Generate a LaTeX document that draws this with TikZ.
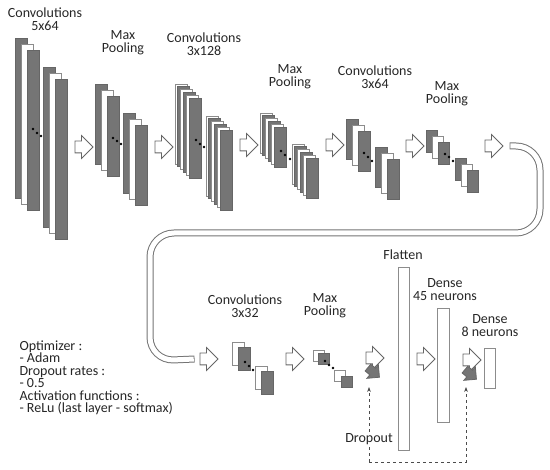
\documentclass[tikz,border=0pt]{standalone}
\usepackage{fontspec}
\setmainfont{Carlito}
\usetikzlibrary{positioning, arrows.meta, shapes.arrows, calc}

\begin{document}
\begin{tikzpicture}[x=1pt, y=-1pt,
    fmapw/.style={draw=black!45, fill=white, line width=0.8pt, inner sep=0pt, outer sep=0pt, anchor=north west},
    fmapg/.style={fmapw, draw=black!60, fill=black!54},
    dotn/.style={circle, fill=black, inner sep=0pt, minimum size=2.6pt},
    title/.style={align=center, text=black!85, font=\fontsize{14}{13}\selectfont},
    flow/.style={single arrow, draw=black!60, fill=white, line width=0.8pt, minimum height=18pt,
                 inner xsep=0pt, inner ysep=5.5pt, single arrow head extend=5.5pt},
    flowg/.style={flow, fill=black!54, minimum height=15pt, inner ysep=4pt, single arrow head extend=4.5pt},
    pipe/.style={rounded corners=24pt}
]
    \useasboundingbox (0,0) rectangle (550,470);

    % first row
    \foreach \n/\x/\y/\s in {a/15/38/fmapg, b/21/44/fmapw, c/27/50/fmapg, d/43/67/fmapg, e/49/73/fmapw, f/55/79/fmapg}
        \node[\s, minimum width=12pt, minimum height=160pt] (c1\n) at (\x,\y) {};
    \foreach \n/\x/\y/\s in {a/95/84/fmapg, b/101/90/fmapw, c/107/96/fmapg, d/123/113/fmapg, e/129/119/fmapw, f/135/125/fmapg}
        \node[\s, minimum width=12pt, minimum height=80pt] (p1\n) at (\x,\y) {};
    \foreach \i/\s in {0/fmapw, 1/fmapg, 2/fmapw, 3/fmapg, 4/fmapw, 5/fmapg} {
        \node[\s, minimum width=12pt, minimum height=80pt] (c2a\i) at ({175+2.8*\i},{84+2.8*\i}) {};
        \node[\s, minimum width=12pt, minimum height=80pt] (c2b\i) at ({206+2.8*\i},{116+2.8*\i}) {};
    }
    \foreach \i/\s in {0/fmapw, 1/fmapg, 2/fmapw, 3/fmapg, 4/fmapw, 5/fmapg} {
        \node[\s, minimum width=12pt, minimum height=40pt] (p2a\i) at ({260+2.8*\i},{113+2.8*\i}) {};
        \node[\s, minimum width=12pt, minimum height=40pt] (p2b\i) at ({292+2.8*\i},{144+2.8*\i}) {};
    }
    \foreach \n/\x/\y/\s in {a/346/119/fmapg, b/352/125/fmapw, c/358/131/fmapg, d/375/147/fmapg, e/381/153/fmapw, f/387/159/fmapg}
        \node[\s, minimum width=12pt, minimum height=40pt] (c3\n) at (\x,\y) {};
    \foreach \n/\x/\y/\s in {a/426/130/fmapg, b/432/136/fmapw, c/438/142/fmapg, d/455/158/fmapg, e/461/164/fmapw, f/467/170/fmapg}
        \node[\s, minimum width=11pt, minimum height=22pt] (p3\n) at (\x,\y) {};

    % second row
    \foreach \n/\x/\y/\s in {a/232/342/fmapw, b/238/347/fmapg, c/255/366/fmapw, d/261/371/fmapg}
        \node[\s, minimum width=12pt, minimum height=23pt] (c4\n) at (\x,\y) {};
    \foreach \n/\x/\y/\s in {a/313/350/fmapw, b/318/353/fmapg, c/334/370/fmapw, d/341/376/fmapg}
        \node[\s, minimum width=11pt, minimum height=11pt] (p4\n) at (\x,\y) {};

    \node[fmapw, minimum width=11pt, minimum height=183pt] (flat) at (398,267) {};
    \node[fmapw, minimum width=12pt, minimum height=114pt] (d45) at (437,308) {};
    \node[fmapw, minimum width=11pt, minimum height=40pt] (d8) at (484,348) {};

    % dots
    \foreach \x/\y [count=\k] in {33/129, 37/133, 41/136, 113/138, 117/141, 121/144, 196/140, 200/144, 204/147,
        281/151, 285/155, 290/159, 364/153, 368/157, 372/161, 445/154, 449/157, 453/161,
        245/362, 249/366, 253/370, 325/361, 329/365, 333/368}
        \node[dotn] (pt\k) at (\x,\y) {};

    % titles
    \node[title] (t1) at (45,19) {Convolutions\\5x64};
    \node[title] (t2) at (123,43) {Max\\Pooling};
    \node[title] (t3) at (204,44) {Convolutions\\3x128};
    \node[title] (t4) at (290,77) {Max\\Pooling};
    \node[title] (t5) at (375,77) {Convolutions\\3x64};
    \node[title] (t6) at (447,94) {Max\\Pooling};
    \node[title] (t7) at (245,306) {Convolutions\\3x32};
    \node[title] (t8) at (325,306) {Max\\Pooling};
    \node[title] (t9) at (403,255) {Flatten};
    \node[title] (t10) at (445,290) {Dense\\45 neurons};
    \node[title] (t11) at (490,326) {Dense\\8 neurons};

    % flow arrows
    \node[flow] (a1) at (81,147) {};
    \node[flow] (a2) at (161,147) {};
    \node[flow] (a3) at (246,145) {};
    \node[flow] (a4) at (332,145) {};
    \node[flow] (a5) at (412,146) {};
    \node[flow] (a6) at (491,146) {};
    \node[flow] (a7) at (206,359) {};
    \node[flow] (a8) at (292,359) {};
    \node[flow] (a9) at (423,359) {};

    % dropout arrows
    \node[flow] (do1) at (372,358) {};
    \node[flowg, rotate=-40] (dg1) at (372,371) {};
    \node[flow] (do2) at (469,360) {};
    \node[flowg, rotate=-40] (dg2) at (469,373) {};

    % pipe
    \coordinate (q0) at ($(a6.east)+(6,0)$);
    \coordinate (q1) at ($(a7.west)+(-5,0)$);
    \draw[pipe, line width=7pt, draw=black!55] (q0) -- (540,146) -- (540,233) -- (150,233) -- (150,361) -- (q1);
    \draw[pipe, line width=5pt, draw=white, shorten <=0.8pt, shorten >=0.8pt] (q0) -- (540,146) -- (540,233) -- (150,233) -- (150,361) -- (q1);

    % dropout
    \coordinate (e1) at (369,387);
    \coordinate (e2) at (466,387);
    \coordinate (b1) at (369,462);
    \coordinate (b2) at (466,462);
    \draw[dashed, black!70, line width=0.8pt, -{Stealth[length=5pt]}] (b1) -- (e1);
    \draw[dashed, black!70, line width=0.8pt, -{Stealth[length=5pt]}] (b1) -- (b2) -- (e2);
    \node[title, fill=white, inner sep=1pt] (drop) at (369,439) {Dropout};

    % settings
    \node[anchor=north west, align=left, text=black!85, font=\fontsize{14}{12.5}\selectfont] (info) at (16,337)
        {Optimizer :\\- Adam\\Dropout rates :\\- 0.5\\Activation functions :\\- ReLu (last layer - softmax)};
\end{tikzpicture}
\end{document}
